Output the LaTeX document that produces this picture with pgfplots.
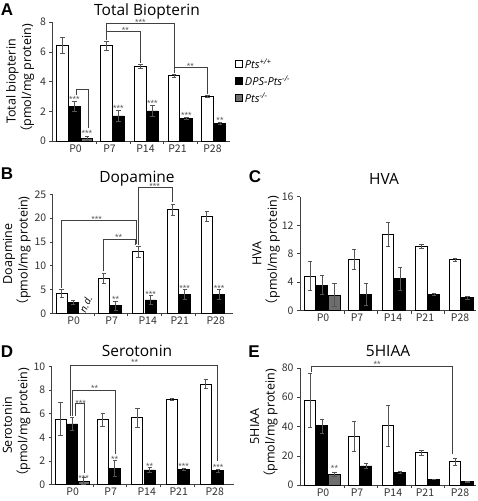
\documentclass[border=0pt]{standalone}
\usepackage{pgfplots}
\pgfplotsset{compat=1.18}
\usepackage{fontspec}
\setmainfont{Open Sans}
\newfontfamily\cjk{Noto Sans CJK JP}
\newfontfamily\letterfont{Liberation Sans}
\definecolor{grayfill}{HTML}{6E6E6E}
\definecolor{errc}{HTML}{555555}
\pgfplotsset{
  errb/.style={error bars/.cd, y dir=both, y explicit,
     error bar style={errc, line width=0.5pt},
     error mark options={rotate=90, mark size=2.2pt, errc, line width=0.5pt}},
  wbar/.style={ybar, bar shift=0pt, fill=white, draw=black, line width=0.7pt, errb},
  kbar/.style={ybar, bar shift=0pt, fill=black, draw=black, line width=0.7pt, errb},
  gbar/.style={ybar, bar shift=0pt, fill=grayfill, draw=black, line width=0.7pt, errb},
  bracket/.style={black!75, line width=0.5pt, mark=none, forget plot},
  panel/.style={scale only axis, anchor=south west, clip=false,
    axis lines=left, axis line style={black!75, line width=0.6pt, -},
    xmin=0, ymin=0, tick align=outside, major tick length=3pt,
    tick style={black!75, line width=0.5pt},
    /pgf/number format/assume math mode=true,
    tick label style={font=\cjk\fontsize{10.5}{11}\selectfont, text=black!80},
    xticklabels={},
    extra x tick style={major tick length=0pt},
    ylabel style={anchor=center, align=center, font=\fontsize{12.5}{15.5}\selectfont},
  },
  layA/.style={xtick={44,77.5,111,144.5}, extra x ticks={23,57,93,125,160},
    extra x tick labels={P0,P7,P14,P21,P28}, bar width=11.5},
  layB/.style={xtick={42,75,109,143}, extra x ticks={21,59,95,127,163},
    extra x tick labels={P0,P7,P14,P21,P28}, bar width=11},
}
\tikzset{st/.style={font=\letterfont\fontsize{9}{9}\selectfont, text=black!65, anchor=base, yshift=-5pt, inner sep=0pt},
  ttl/.style={font=\fontsize{15.5}{17}\selectfont},
  lt/.style={font=\letterfont\bfseries\fontsize{17}{17}\selectfont}}
\begin{document}
\begin{tikzpicture}
\useasboundingbox (0,0) rectangle (477pt,501pt);
% ---------------- A
\begin{axis}[panel, layA, at={(52.5pt,360pt)}, width=177.5pt, height=119pt,
  xmax=177.5, ymax=8, ytick={0,2,4,6,8},
  ylabel={Total biopterin\\{\cjk （}pmol/mg protein)},
  ylabel style={at={(axis description cs:-0.183,0.5)}},
  legend style={at={(1.028,0.71)}, anchor=north west, draw=none, fill=none,
    font=\itshape\fontsize{11}{12}\selectfont, row sep=2pt, inner sep=0pt,
    /tikz/every even column/.append style={column sep=3pt}},
  legend cell align=left,
  legend image code/.code={\draw[#1, draw=black, line width=0.8pt] (0pt,-3.5pt) rectangle (7pt,3.5pt);}]
\addplot[wbar] table[x=x,y=y,y error=e] {
x y e
10 6.43 0.56
54 6.43 0.30
88 5.01 0.15
121.5 4.38 0.10
155 2.99 0.06
};
\addlegendentry{Pts\textsuperscript{+/+}}
\addplot[kbar] table[x=x,y=y,y error=e] {
x y e
22 2.33 0.35
66 1.69 0.35
100 2.02 0.35
134 1.53 0.05
167.5 1.19 0.06
};
\addlegendentry{DPS-Pts\textsuperscript{-/-}}
\addplot[gbar] table[x=x,y=y,y error=e] {
x y e
34.5 0.18 0.15
};
\addlegendentry{Pts\textsuperscript{-/-}}
\addplot[bracket] coordinates {(23.5,3.1) (23.5,3.48) (35.5,3.48) (35.5,0.85)};
\addplot[bracket] coordinates {(54,6.8) (54,7.37) (88,7.37) (88,5.25)};
\addplot[bracket] coordinates {(54,7.37) (54,7.89) (121.5,7.89) (121.5,4.6)};
\addplot[bracket] coordinates {(121.5,4.6) (121.5,4.94) (155,4.94) (155,3.15)};
\node[st] at (axis cs:22,2.95) {***};
\node[st] at (axis cs:34.5,0.62) {***};
\node[st] at (axis cs:66,2.3) {***};
\node[st] at (axis cs:100,2.65) {***};
\node[st] at (axis cs:134,1.85) {***};
\node[st] at (axis cs:167.5,1.5) {**};
\node[st] at (axis cs:73,7.55) {**};
\node[st] at (axis cs:88,8.1) {***};
\node[st] at (axis cs:138,5.15) {**};
\end{axis}
% ---------------- B
\begin{axis}[panel, layB, at={(52.7pt,187.7pt)}, width=180pt, height=119pt,
  xmax=180, ymax=25, ytick={0,5,10,15,20,25},
  ylabel={Doapmine\\{\cjk （}pmol/mg protein)},
  ylabel style={at={(axis description cs:-0.2,0.5)}}]
\addplot[wbar] table[x=x,y=y,y error=e] {
x y e
9 4.2 0.8
51 7.35 1.1
85.6 12.95 1.2
120 21.85 1.15
154 20.3 1.05
};
\addplot[kbar] table[x=x,y=y,y error=e] {
x y e
20.5 2.3 0.5
63 1.6 1.0
98 2.8 1.0
132 4.0 1.0
166.5 4.0 1.0
};
\addplot[bracket] coordinates {(9,5.4) (9,19.5) (84,19.5) (84,14.6)};
\addplot[bracket] coordinates {(51,8.8) (51,15.5) (82.5,15.5) (82.5,14.4)};
\addplot[bracket] coordinates {(86,14.3) (86,26.5) (120,26.5) (120,23.3)};
\node[font=\itshape\fontsize{10}{10}\selectfont, rotate=65, inner sep=0pt] at (axis cs:33,1.9) {n.d.};
\node[st] at (axis cs:63,3.4) {**};
\node[st] at (axis cs:98,4.4) {***};
\node[st] at (axis cs:132,5.7) {***};
\node[st] at (axis cs:166.5,5.7) {***};
\node[st] at (axis cs:44,20.2) {***};
\node[st] at (axis cs:66,16.3) {**};
\node[st] at (axis cs:102,27.1) {***};
\end{axis}
% ---------------- C
\begin{axis}[panel, layA, at={(300pt,190.3pt)}, width=176pt, height=114pt,
  xmax=176, ymax=16, ytick={0,4,8,12,16},
  ylabel={HVA\\{\cjk （}pmol/mg protein)},
  ylabel style={at={(axis description cs:-0.193,0.5)}}]
\addplot[wbar] table[x=x,y=y,y error=e] {
x y e
10 4.87 2.0
54 7.2 1.4
88 10.76 1.65
121.5 9.08 0.3
155 7.2 0.2
};
\addplot[kbar] table[x=x,y=y,y error=e] {
x y e
22 3.6 1.35
66 2.3 1.5
100 4.54 1.6
134 2.3 0.15
167.5 1.82 0.15
};
\addplot[gbar] table[x=x,y=y,y error=e] {
x y e
34.5 2.2 1.6
};
\end{axis}
% ---------------- D
\begin{axis}[panel, layB, at={(51.7pt,16.7pt)}, width=182pt, height=117.6pt,
  xmax=182, ymax=10, ytick={0,2,4,6,8,10},
  ylabel={Serotonin\\{\cjk （}pmol/mg protein)},
  ylabel style={at={(axis description cs:-0.193,0.5)}}]
\addplot[wbar] table[x=x,y=y,y error=e] {
x y e
9 5.55 1.4
51 5.52 0.55
85.6 5.67 0.8
120 7.25 0.07
154 8.53 0.4
};
\addplot[kbar] table[x=x,y=y,y error=e] {
x y e
20.5 5.13 0.55
63 1.36 0.65
98 1.22 0.2
132 1.27 0.1
166.5 1.16 0.15
};
\addplot[gbar] table[x=x,y=y,y error=e] {
x y e
32 0.28 0.3
};
\addplot[bracket] coordinates {(19,5.8) (19,10.14) (166,10.14) (166,1.95)};
\addplot[bracket] coordinates {(20.5,5.8) (20.5,7.96) (63.5,7.96) (63.5,2.55)};
\addplot[bracket] coordinates {(24,5.8) (24,6.9) (33,6.9) (33,0.95)};
\node[st] at (axis cs:83,10.5) {**};
\node[st] at (axis cs:43,8.35) {**};
\node[st] at (axis cs:29,7.05) {***};
\node[st] at (axis cs:32,0.7) {***};
\node[st] at (axis cs:63,2.25) {**};
\node[st] at (axis cs:98,1.65) {**};
\node[st] at (axis cs:132,1.65) {***};
\node[st] at (axis cs:166.5,1.6) {***};
\end{axis}
% ---------------- E
\begin{axis}[panel, layA, at={(300pt,16pt)}, width=176pt, height=117pt,
  xmax=176, ymax=80, ytick={0,20,40,60,80},
  ylabel={5HIAA\\{\cjk （}pmol/mg protein)},
  ylabel style={at={(axis description cs:-0.205,0.5)}}]
\addplot[wbar] table[x=x,y=y,y error=e] {
x y e
10 57.8 18.3
54 33.6 10.3
88 40.5 14.3
121.5 22.2 1.7
155 16.0 2.2
};
\addplot[kbar] table[x=x,y=y,y error=e] {
x y e
22 40.5 4.8
66 13.0 1.8
100 8.7 0.8
134 3.9 0.3
167.5 2.3 0.3
};
\addplot[gbar] table[x=x,y=y,y error=e] {
x y e
34.5 7.3 1.5
};
\addplot[bracket] coordinates {(11,77) (11,81.1) (152,81.1) (152,21)};
\node[st] at (axis cs:77,83.8) {**};
\node[st] at (axis cs:34.5,12.5) {**};
\end{axis}
% titles and letters
\node[ttl] at (147pt,490pt) {Total Biopterin};
\node[ttl] at (137pt,322pt) {Dopamine};
\node[ttl] at (384pt,322pt) {HVA};
\node[ttl] at (137pt,150pt) {Serotonin};
\node[ttl] at (388pt,150pt) {5HIAA};
\node[lt] at (7pt,491pt) {A};
\node[lt] at (7pt,327pt) {B};
\node[lt] at (255pt,324pt) {C};
\node[lt] at (7pt,149pt) {D};
\node[lt] at (254pt,149pt) {E};
\end{tikzpicture}
\end{document}
